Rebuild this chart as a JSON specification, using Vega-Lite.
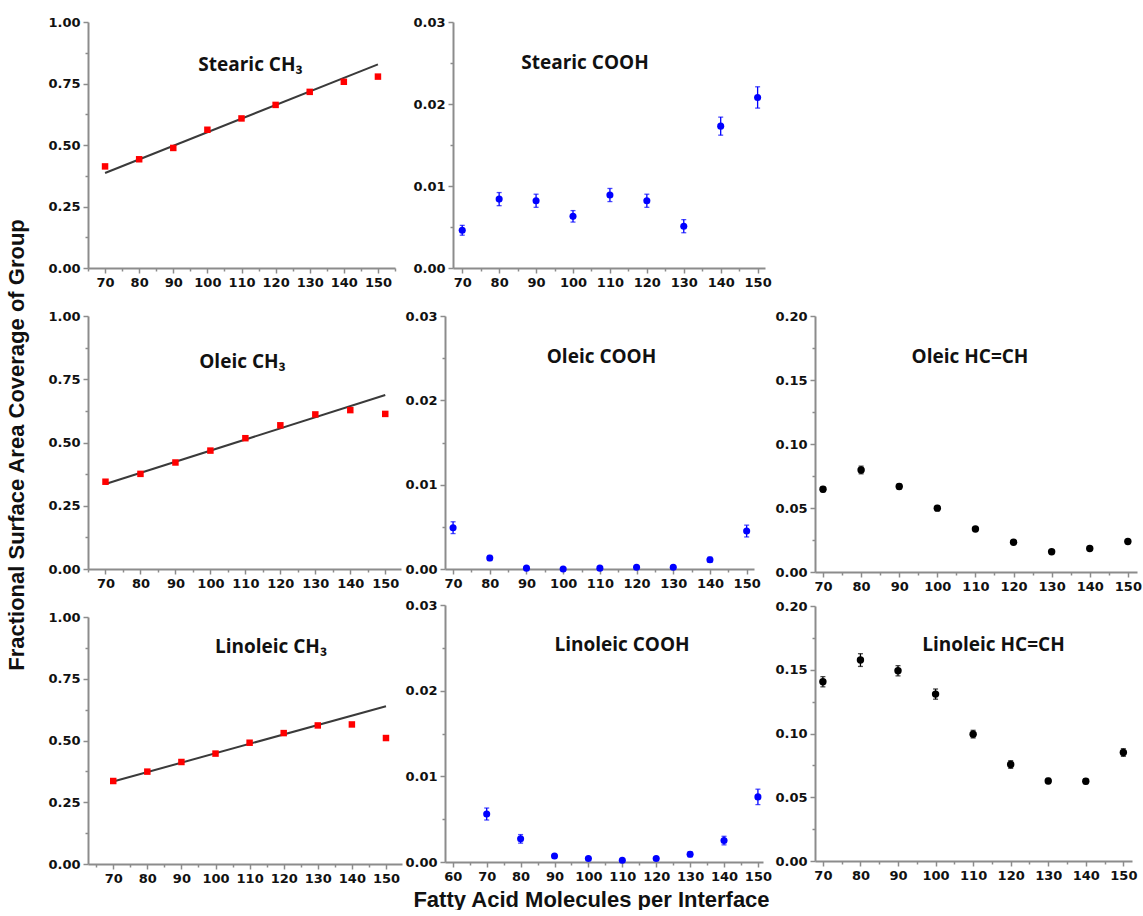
{
  "$schema": "https://vega.github.io/schema/vega-lite/v6.json",
  "background": "white",
  "padding": {"left": 5, "top": 16, "right": 0, "bottom": 0},
  "title": {"text": "Fractional Surface Area Coverage of Group", "orient": "left", "anchor": "middle", "offset": 19, "dx": 18, "font": "Liberation Sans", "fontSize": 22, "fontWeight": "bold", "color": "#111111"},
  "datasets": {
    "pts": [
      {"id": "SCH", "n": 70, "v": 0.413}, {"id": "SCH", "n": 80, "v": 0.442}, {"id": "SCH", "n": 90, "v": 0.488},
      {"id": "SCH", "n": 100, "v": 0.562}, {"id": "SCH", "n": 110, "v": 0.608}, {"id": "SCH", "n": 120, "v": 0.663},
      {"id": "SCH", "n": 130, "v": 0.716}, {"id": "SCH", "n": 140, "v": 0.757}, {"id": "SCH", "n": 150, "v": 0.778},
      {"id": "SCO", "n": 70, "v": 0.0046, "lo": 0.0040, "hi": 0.0052},
      {"id": "SCO", "n": 80, "v": 0.0084, "lo": 0.0076, "hi": 0.0092},
      {"id": "SCO", "n": 90, "v": 0.0082, "lo": 0.0074, "hi": 0.0090},
      {"id": "SCO", "n": 100, "v": 0.0063, "lo": 0.0056, "hi": 0.0070},
      {"id": "SCO", "n": 110, "v": 0.0089, "lo": 0.0081, "hi": 0.0097},
      {"id": "SCO", "n": 120, "v": 0.0082, "lo": 0.0074, "hi": 0.0090},
      {"id": "SCO", "n": 130, "v": 0.0051, "lo": 0.0043, "hi": 0.0059},
      {"id": "SCO", "n": 140, "v": 0.0173, "lo": 0.0162, "hi": 0.0184},
      {"id": "SCO", "n": 150, "v": 0.0208, "lo": 0.0195, "hi": 0.0221},
      {"id": "OCH", "n": 70, "v": 0.345}, {"id": "OCH", "n": 80, "v": 0.376}, {"id": "OCH", "n": 90, "v": 0.421},
      {"id": "OCH", "n": 100, "v": 0.468}, {"id": "OCH", "n": 110, "v": 0.517}, {"id": "OCH", "n": 120, "v": 0.568},
      {"id": "OCH", "n": 130, "v": 0.611}, {"id": "OCH", "n": 140, "v": 0.628}, {"id": "OCH", "n": 150, "v": 0.613},
      {"id": "OCO", "n": 70, "v": 0.0049, "lo": 0.0042, "hi": 0.0056},
      {"id": "OCO", "n": 80, "v": 0.0013, "lo": 0.0010, "hi": 0.0016},
      {"id": "OCO", "n": 90, "v": 0.0001, "lo": 0.0000, "hi": 0.0002},
      {"id": "OCO", "n": 100, "v": 0.0000, "lo": 0.0000, "hi": 0.0001},
      {"id": "OCO", "n": 110, "v": 0.0001, "lo": 0.0000, "hi": 0.0002},
      {"id": "OCO", "n": 120, "v": 0.0002, "lo": 0.0000, "hi": 0.0004},
      {"id": "OCO", "n": 130, "v": 0.0002, "lo": 0.0000, "hi": 0.0004},
      {"id": "OCO", "n": 140, "v": 0.0011, "lo": 0.0008, "hi": 0.0014},
      {"id": "OCO", "n": 150, "v": 0.0045, "lo": 0.0038, "hi": 0.0052},
      {"id": "OHC", "n": 70, "v": 0.0647, "lo": 0.0627, "hi": 0.0667},
      {"id": "OHC", "n": 80, "v": 0.0797, "lo": 0.0767, "hi": 0.0827},
      {"id": "OHC", "n": 90, "v": 0.0668, "lo": 0.0648, "hi": 0.0688},
      {"id": "OHC", "n": 100, "v": 0.0499, "lo": 0.0479, "hi": 0.0519},
      {"id": "OHC", "n": 110, "v": 0.0336, "lo": 0.0321, "hi": 0.0351},
      {"id": "OHC", "n": 120, "v": 0.0233, "lo": 0.0218, "hi": 0.0248},
      {"id": "OHC", "n": 130, "v": 0.0158, "lo": 0.0143, "hi": 0.0173},
      {"id": "OHC", "n": 140, "v": 0.0184, "lo": 0.0169, "hi": 0.0199},
      {"id": "OHC", "n": 150, "v": 0.0238, "lo": 0.0223, "hi": 0.0253},
      {"id": "LCH", "n": 70, "v": 0.336}, {"id": "LCH", "n": 80, "v": 0.374}, {"id": "LCH", "n": 90, "v": 0.413},
      {"id": "LCH", "n": 100, "v": 0.447}, {"id": "LCH", "n": 110, "v": 0.491}, {"id": "LCH", "n": 120, "v": 0.530},
      {"id": "LCH", "n": 130, "v": 0.561}, {"id": "LCH", "n": 140, "v": 0.565}, {"id": "LCH", "n": 150, "v": 0.510},
      {"id": "LCO", "n": 70, "v": 0.0056, "lo": 0.0049, "hi": 0.0063},
      {"id": "LCO", "n": 80, "v": 0.0027, "lo": 0.0022, "hi": 0.0032},
      {"id": "LCO", "n": 90, "v": 0.0007, "lo": 0.0005, "hi": 0.0009},
      {"id": "LCO", "n": 100, "v": 0.0004, "lo": 0.0002, "hi": 0.0006},
      {"id": "LCO", "n": 110, "v": 0.0002, "lo": 0.0001, "hi": 0.0003},
      {"id": "LCO", "n": 120, "v": 0.0004, "lo": 0.0002, "hi": 0.0006},
      {"id": "LCO", "n": 130, "v": 0.0009, "lo": 0.0006, "hi": 0.0012},
      {"id": "LCO", "n": 140, "v": 0.0025, "lo": 0.0020, "hi": 0.0030},
      {"id": "LCO", "n": 150, "v": 0.0076, "lo": 0.0067, "hi": 0.0085},
      {"id": "LHC", "n": 70, "v": 0.1406, "lo": 0.1366, "hi": 0.1446},
      {"id": "LHC", "n": 80, "v": 0.1576, "lo": 0.1526, "hi": 0.1626},
      {"id": "LHC", "n": 90, "v": 0.1492, "lo": 0.1452, "hi": 0.1532},
      {"id": "LHC", "n": 100, "v": 0.1309, "lo": 0.1269, "hi": 0.1349},
      {"id": "LHC", "n": 110, "v": 0.0995, "lo": 0.0965, "hi": 0.1025},
      {"id": "LHC", "n": 120, "v": 0.0757, "lo": 0.0727, "hi": 0.0787},
      {"id": "LHC", "n": 130, "v": 0.0628, "lo": 0.0608, "hi": 0.0648},
      {"id": "LHC", "n": 140, "v": 0.0626, "lo": 0.0606, "hi": 0.0646},
      {"id": "LHC", "n": 150, "v": 0.0851, "lo": 0.0821, "hi": 0.0881}
    ],
    "fits": [
      {"id": "SCH", "n": 70, "v": 0.386}, {"id": "SCH", "n": 150, "v": 0.828},
      {"id": "OCH", "n": 70, "v": 0.336}, {"id": "OCH", "n": 150, "v": 0.688},
      {"id": "LCH", "n": 70, "v": 0.334}, {"id": "LCH", "n": 150, "v": 0.639}
    ]
  },
  "vconcat": [
    {
      "hconcat": [
        {
          "width": 307, "height": 246,
          "title": {"text": "Stearic CH₃", "frame": "group", "anchor": "middle", "offset": 0, "baseline": "middle", "dx": 9, "dy": 68},
          "layer": [
            {"data": {"name": "fits"}, "transform": [{"filter": "datum.id === 'SCH'"}],
             "mark": {"type": "line", "color": "#3a3a3a", "strokeWidth": 2},
             "encoding": {
               "x": {"field": "n", "type": "quantitative", "scale": {"domain": [65, 155], "nice": false, "zero": false}, "axis": {"orient": "bottom", "values": [65, 75, 85, 95, 105, 115, 125, 135, 145, 155], "labels": false, "domain": false, "tickSize": 3, "title": null}},
               "y": {"field": "v", "type": "quantitative", "scale": {"domain": [0, 1], "nice": false}, "axis": {"orient": "left", "values": [0.125, 0.375, 0.625, 0.875], "labels": false, "domain": false, "tickSize": 3, "title": null}}}},
            {"data": {"name": "pts"}, "transform": [{"filter": "datum.id === 'SCH'"}],
             "mark": {"type": "square", "filled": true, "color": "#ff0000", "size": 42, "opacity": 1},
             "encoding": {
               "x": {"field": "n", "type": "quantitative", "scale": {"domain": [65, 155], "nice": false, "zero": false}, "axis": {"orient": "bottom", "values": [70, 80, 90, 100, 110, 120, 130, 140, 150], "title": null}},
               "y": {"field": "v", "type": "quantitative", "scale": {"domain": [0, 1], "nice": false}, "axis": {"orient": "left", "values": [0, 0.25, 0.5, 0.75, 1], "format": ".2f", "title": null}}}}
          ],
          "resolve": {"axis": {"x": "independent", "y": "independent"}}
        },
        {
          "width": 312, "height": 246,
          "title": {"text": "Stearic COOH", "frame": "group", "anchor": "middle", "offset": 0, "baseline": "middle", "dx": -24, "dy": 66},
          "data": {"name": "pts"},
          "transform": [{"filter": "datum.id === 'SCO'"}],
          "layer": [
            {"mark": {"type": "rule", "color": "#0000ff", "strokeWidth": 1.3},
             "encoding": {
               "x": {"field": "n", "type": "quantitative", "scale": {"domain": [67.5, 152], "nice": false, "zero": false}, "axis": {"orient": "bottom", "values": [75, 85, 95, 105, 115, 125, 135, 145], "labels": false, "domain": false, "tickSize": 3, "title": null}},
               "y": {"field": "lo", "type": "quantitative", "scale": {"domain": [0, 0.03], "nice": false}, "axis": {"orient": "left", "values": [0.005, 0.015, 0.025], "labels": false, "domain": false, "tickSize": 3, "title": null}},
               "y2": {"field": "hi"}}},
            {"mark": {"type": "tick", "orient": "horizontal", "color": "#0000ff", "size": 5, "thickness": 1.3},
             "encoding": {"x": {"field": "n", "type": "quantitative", "axis": null}, "y": {"field": "lo", "type": "quantitative", "axis": null}}},
            {"mark": {"type": "tick", "orient": "horizontal", "color": "#0000ff", "size": 5, "thickness": 1.3},
             "encoding": {"x": {"field": "n", "type": "quantitative", "axis": null}, "y": {"field": "hi", "type": "quantitative", "axis": null}}},
            {"mark": {"type": "point", "shape": "circle", "filled": true, "color": "#0000ff", "size": 50, "opacity": 1},
             "encoding": {
               "x": {"field": "n", "type": "quantitative", "scale": {"domain": [67.5, 152], "nice": false, "zero": false}, "axis": {"orient": "bottom", "values": [70, 80, 90, 100, 110, 120, 130, 140, 150], "title": null}},
               "y": {"field": "v", "type": "quantitative", "scale": {"domain": [0, 0.03], "nice": false}, "axis": {"orient": "left", "values": [0, 0.01, 0.02, 0.03], "format": ".2f", "title": null}}}}
          ],
          "resolve": {"axis": {"x": "independent", "y": "independent"}}
        }
      ],
      "bounds": "flush",
      "spacing": 58
    },
    {
      "hconcat": [
        {
          "vconcat": [
            {
              "width": 313, "height": 253,
              "title": {"text": "Oleic CH₃", "frame": "group", "anchor": "middle", "offset": 0, "baseline": "middle", "dx": -2, "dy": 71},
              "layer": [
                {"data": {"name": "fits"}, "transform": [{"filter": "datum.id === 'OCH'"}],
                 "mark": {"type": "line", "color": "#3a3a3a", "strokeWidth": 2},
                 "encoding": {
                   "x": {"field": "n", "type": "quantitative", "scale": {"domain": [65, 154.5], "nice": false, "zero": false}, "axis": {"orient": "bottom", "values": [65, 75, 85, 95, 105, 115, 125, 135, 145], "labels": false, "domain": false, "tickSize": 3, "title": null}},
                   "y": {"field": "v", "type": "quantitative", "scale": {"domain": [0, 1], "nice": false}, "axis": {"orient": "left", "values": [0.125, 0.375, 0.625, 0.875], "labels": false, "domain": false, "tickSize": 3, "title": null}}}},
                {"data": {"name": "pts"}, "transform": [{"filter": "datum.id === 'OCH'"}],
                 "mark": {"type": "square", "filled": true, "color": "#ff0000", "size": 42, "opacity": 1},
                 "encoding": {
                   "x": {"field": "n", "type": "quantitative", "scale": {"domain": [65, 154.5], "nice": false, "zero": false}, "axis": {"orient": "bottom", "values": [70, 80, 90, 100, 110, 120, 130, 140, 150], "title": null}},
                   "y": {"field": "v", "type": "quantitative", "scale": {"domain": [0, 1], "nice": false}, "axis": {"orient": "left", "values": [0, 0.25, 0.5, 0.75, 1], "format": ".2f", "title": null}}}}
              ],
              "resolve": {"axis": {"x": "independent", "y": "independent"}}
            },
            {
              "width": 314, "height": 247,
              "title": {"text": "Linoleic CH₃", "frame": "group", "anchor": "middle", "offset": 0, "baseline": "middle", "dx": 26, "dy": 55},
              "layer": [
                {"data": {"name": "fits"}, "transform": [{"filter": "datum.id === 'LCH'"}],
                 "mark": {"type": "line", "color": "#3a3a3a", "strokeWidth": 2},
                 "encoding": {
                   "x": {"field": "n", "type": "quantitative", "scale": {"domain": [62.6, 154.7], "nice": false, "zero": false}, "axis": {"orient": "bottom", "values": [65, 75, 85, 95, 105, 115, 125, 135, 145], "labels": false, "domain": false, "tickSize": 3, "title": null}},
                   "y": {"field": "v", "type": "quantitative", "scale": {"domain": [0, 1], "nice": false}, "axis": {"orient": "left", "values": [0.125, 0.375, 0.625, 0.875], "labels": false, "domain": false, "tickSize": 3, "title": null}}}},
                {"data": {"name": "pts"}, "transform": [{"filter": "datum.id === 'LCH'"}],
                 "mark": {"type": "square", "filled": true, "color": "#ff0000", "size": 42, "opacity": 1},
                 "encoding": {
                   "x": {"field": "n", "type": "quantitative", "scale": {"domain": [62.6, 154.7], "nice": false, "zero": false}, "axis": {"orient": "bottom", "values": [70, 80, 90, 100, 110, 120, 130, 140, 150], "title": null}},
                   "y": {"field": "v", "type": "quantitative", "scale": {"domain": [0, 1], "nice": false}, "axis": {"orient": "left", "values": [0, 0.25, 0.5, 0.75, 1], "format": ".2f", "title": null}}}}
              ],
              "resolve": {"axis": {"x": "independent", "y": "independent"}}
            }
          ],
          "bounds": "flush",
          "spacing": 48
        },
        {
          "vconcat": [
            {
              "width": 309, "height": 253,
              "title": {"text": "Oleic COOH", "frame": "group", "anchor": "middle", "offset": 0, "baseline": "middle", "dx": 2, "dy": 66},
              "data": {"name": "pts"},
              "transform": [{"filter": "datum.id === 'OCO'"}],
              "layer": [
                {"mark": {"type": "rule", "color": "#0000ff", "strokeWidth": 1.3},
                 "encoding": {
                   "x": {"field": "n", "type": "quantitative", "scale": {"domain": [67.8, 152], "nice": false, "zero": false}, "axis": {"orient": "bottom", "values": [75, 85, 95, 105, 115, 125, 135, 145], "labels": false, "domain": false, "tickSize": 3, "title": null}},
                   "y": {"field": "lo", "type": "quantitative", "scale": {"domain": [0, 0.03], "nice": false}, "axis": {"orient": "left", "values": [0.005, 0.015, 0.025], "labels": false, "domain": false, "tickSize": 3, "title": null}},
                   "y2": {"field": "hi"}}},
                {"mark": {"type": "tick", "orient": "horizontal", "color": "#0000ff", "size": 5, "thickness": 1.3},
                 "encoding": {"x": {"field": "n", "type": "quantitative", "axis": null}, "y": {"field": "lo", "type": "quantitative", "axis": null}}},
                {"mark": {"type": "tick", "orient": "horizontal", "color": "#0000ff", "size": 5, "thickness": 1.3},
                 "encoding": {"x": {"field": "n", "type": "quantitative", "axis": null}, "y": {"field": "hi", "type": "quantitative", "axis": null}}},
                {"mark": {"type": "point", "shape": "circle", "filled": true, "color": "#0000ff", "size": 50, "opacity": 1},
                 "encoding": {
                   "x": {"field": "n", "type": "quantitative", "scale": {"domain": [67.8, 152], "nice": false, "zero": false}, "axis": {"orient": "bottom", "values": [70, 80, 90, 100, 110, 120, 130, 140, 150], "title": null}},
                   "y": {"field": "v", "type": "quantitative", "scale": {"domain": [0, 0.03], "nice": false}, "axis": {"orient": "left", "values": [0, 0.01, 0.02, 0.03], "format": ".2f", "title": null}}}}
              ],
              "resolve": {"axis": {"x": "independent", "y": "independent"}}
            },
            {
              "width": 318, "height": 257,
              "title": {"text": "Linoleic COOH", "frame": "group", "anchor": "middle", "offset": 0, "baseline": "middle", "dx": 18, "dy": 65},
              "data": {"name": "pts"},
              "transform": [{"filter": "datum.id === 'LCO'"}],
              "layer": [
                {"mark": {"type": "rule", "color": "#0000ff", "strokeWidth": 1.3},
                 "encoding": {
                   "x": {"field": "n", "type": "quantitative", "scale": {"domain": [57.7, 151.5], "nice": false, "zero": false}, "axis": {"orient": "bottom", "values": [65, 75, 85, 95, 105, 115, 125, 135, 145], "labels": false, "domain": false, "tickSize": 3, "title": null}},
                   "y": {"field": "lo", "type": "quantitative", "scale": {"domain": [0, 0.03], "nice": false}, "axis": {"orient": "left", "values": [0.005, 0.015, 0.025], "labels": false, "domain": false, "tickSize": 3, "title": null}},
                   "y2": {"field": "hi"}}},
                {"mark": {"type": "tick", "orient": "horizontal", "color": "#0000ff", "size": 5, "thickness": 1.3},
                 "encoding": {"x": {"field": "n", "type": "quantitative", "axis": null}, "y": {"field": "lo", "type": "quantitative", "axis": null}}},
                {"mark": {"type": "tick", "orient": "horizontal", "color": "#0000ff", "size": 5, "thickness": 1.3},
                 "encoding": {"x": {"field": "n", "type": "quantitative", "axis": null}, "y": {"field": "hi", "type": "quantitative", "axis": null}}},
                {"mark": {"type": "point", "shape": "circle", "filled": true, "color": "#0000ff", "size": 50, "opacity": 1},
                 "encoding": {
                   "x": {"field": "n", "type": "quantitative", "scale": {"domain": [57.7, 151.5], "nice": false, "zero": false}, "axis": {"orient": "bottom", "values": [60, 70, 80, 90, 100, 110, 120, 130, 140, 150], "title": "Fatty Acid Molecules per Interface", "titleX": 146, "titleAlign": "center", "titlePadding": 6}},
                   "y": {"field": "v", "type": "quantitative", "scale": {"domain": [0, 0.03], "nice": false}, "axis": {"orient": "left", "values": [0, 0.01, 0.02, 0.03], "format": ".2f", "title": null}}}}
              ],
              "resolve": {"axis": {"x": "independent", "y": "independent"}}
            }
          ],
          "bounds": "flush",
          "spacing": 36
        },
        {
          "vconcat": [
            {
              "width": 322, "height": 256,
              "title": {"text": "Oleic HC=CH", "frame": "group", "anchor": "middle", "offset": 0, "baseline": "middle", "dx": -6, "dy": 66},
              "data": {"name": "pts"},
              "transform": [{"filter": "datum.id === 'OHC'"}],
              "layer": [
                {"mark": {"type": "rule", "color": "#000000", "strokeWidth": 1.3},
                 "encoding": {
                   "x": {"field": "n", "type": "quantitative", "scale": {"domain": [67.9, 152.4], "nice": false, "zero": false}, "axis": {"orient": "bottom", "values": [75, 85, 95, 105, 115, 125, 135, 145], "labels": false, "domain": false, "tickSize": 3, "title": null}},
                   "y": {"field": "lo", "type": "quantitative", "scale": {"domain": [0, 0.2], "nice": false}, "axis": {"orient": "left", "values": [0.025, 0.075, 0.125, 0.175], "labels": false, "domain": false, "tickSize": 3, "title": null}},
                   "y2": {"field": "hi"}}},
                {"mark": {"type": "tick", "orient": "horizontal", "color": "#000000", "size": 5, "thickness": 1.3},
                 "encoding": {"x": {"field": "n", "type": "quantitative", "axis": null}, "y": {"field": "lo", "type": "quantitative", "axis": null}}},
                {"mark": {"type": "tick", "orient": "horizontal", "color": "#000000", "size": 5, "thickness": 1.3},
                 "encoding": {"x": {"field": "n", "type": "quantitative", "axis": null}, "y": {"field": "hi", "type": "quantitative", "axis": null}}},
                {"mark": {"type": "point", "shape": "circle", "filled": true, "color": "#000000", "size": 55, "opacity": 1},
                 "encoding": {
                   "x": {"field": "n", "type": "quantitative", "scale": {"domain": [67.9, 152.4], "nice": false, "zero": false}, "axis": {"orient": "bottom", "values": [70, 80, 90, 100, 110, 120, 130, 140, 150], "title": null}},
                   "y": {"field": "v", "type": "quantitative", "scale": {"domain": [0, 0.2], "nice": false}, "axis": {"orient": "left", "values": [0, 0.05, 0.1, 0.15, 0.2], "format": ".2f", "title": null}}}}
              ],
              "resolve": {"axis": {"x": "independent", "y": "independent"}}
            },
            {
              "width": 317, "height": 255,
              "title": {"text": "Linoleic HC=CH", "frame": "group", "anchor": "middle", "offset": 0, "baseline": "middle", "dx": 20, "dy": 64},
              "data": {"name": "pts"},
              "transform": [{"filter": "datum.id === 'LHC'"}],
              "layer": [
                {"mark": {"type": "rule", "color": "#000000", "strokeWidth": 1.3},
                 "encoding": {
                   "x": {"field": "n", "type": "quantitative", "scale": {"domain": [67.9, 152.3], "nice": false, "zero": false}, "axis": {"orient": "bottom", "values": [75, 85, 95, 105, 115, 125, 135, 145], "labels": false, "domain": false, "tickSize": 3, "title": null}},
                   "y": {"field": "lo", "type": "quantitative", "scale": {"domain": [0, 0.2], "nice": false}, "axis": {"orient": "left", "values": [0.025, 0.075, 0.125, 0.175], "labels": false, "domain": false, "tickSize": 3, "title": null}},
                   "y2": {"field": "hi"}}},
                {"mark": {"type": "tick", "orient": "horizontal", "color": "#000000", "size": 5, "thickness": 1.3},
                 "encoding": {"x": {"field": "n", "type": "quantitative", "axis": null}, "y": {"field": "lo", "type": "quantitative", "axis": null}}},
                {"mark": {"type": "tick", "orient": "horizontal", "color": "#000000", "size": 5, "thickness": 1.3},
                 "encoding": {"x": {"field": "n", "type": "quantitative", "axis": null}, "y": {"field": "hi", "type": "quantitative", "axis": null}}},
                {"mark": {"type": "point", "shape": "circle", "filled": true, "color": "#000000", "size": 55, "opacity": 1},
                 "encoding": {
                   "x": {"field": "n", "type": "quantitative", "scale": {"domain": [67.9, 152.3], "nice": false, "zero": false}, "axis": {"orient": "bottom", "values": [70, 80, 90, 100, 110, 120, 130, 140, 150], "title": null}},
                   "y": {"field": "v", "type": "quantitative", "scale": {"domain": [0, 0.2], "nice": false}, "axis": {"orient": "left", "values": [0, 0.05, 0.1, 0.15, 0.2], "format": ".2f", "title": null}}}}
              ],
              "resolve": {"axis": {"x": "independent", "y": "independent"}}
            }
          ],
          "bounds": "flush",
          "spacing": 34
        }
      ],
      "spacing": 2
    }
  ],
  "spacing": 21,
  "config": {
    "view": {"stroke": null},
    "axis": {
      "domainColor": "#8c8c8c", "domainWidth": 2,
      "tickColor": "#8c8c8c", "tickWidth": 1.5, "tickSize": 5,
      "labelFont": "DejaVu Sans", "labelFontWeight": "bold", "labelFontSize": 13, "labelColor": "#111111", "labelPadding": 3,
      "labelFlush": false, "labelOverlap": false, "grid": false,
      "titleFont": "Liberation Sans", "titleFontSize": 22, "titleFontWeight": "bold", "titleColor": "#111111"
    },
    "title": {"font": "Open Sans", "fontSize": 19, "fontWeight": 700, "color": "#111111"}
  }
}
